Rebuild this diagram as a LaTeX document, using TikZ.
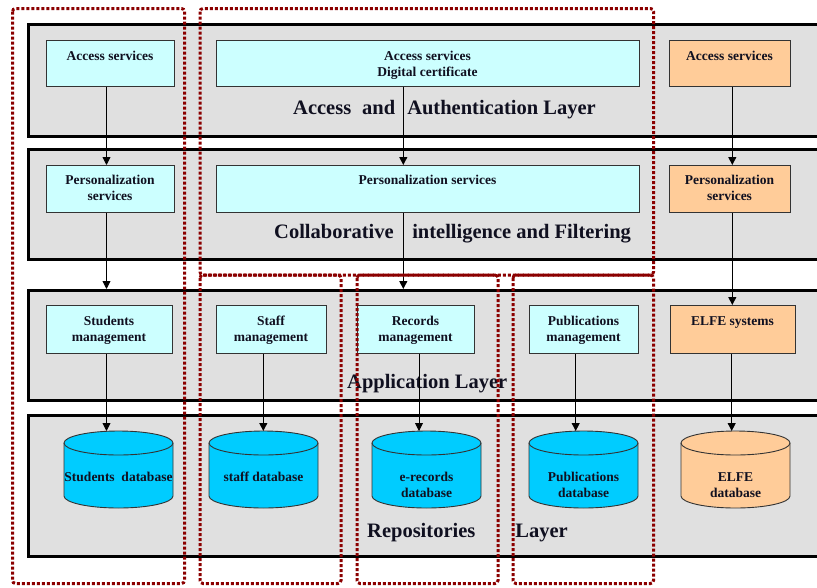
\documentclass[tikz,border=0pt]{standalone}
\usepackage{fontspec}
\setmainfont{Liberation Serif}
\usetikzlibrary{arrows.meta,calc}
\definecolor{cyanbox}{HTML}{CCFFFF}
\definecolor{orangebox}{HTML}{FFCC99}
\definecolor{cylcyan}{HTML}{00CCFF}
\definecolor{bandgray}{HTML}{E0E0E0}
\definecolor{dred}{HTML}{8B0000}
\definecolor{ink}{HTML}{101020}
\tikzset{
 band/.style={draw=black, line width=3pt, fill=bandgray, anchor=north west, inner sep=0pt},
 box/.style={draw=black!80, line width=0.9pt, anchor=north west, inner sep=0pt},
 cbox/.style={box, fill=cyanbox},
 obox/.style={box, fill=orangebox},
 boxtext/.style={font=\fontsize{13.5}{16}\selectfont\bfseries, text=ink, anchor=base, inner sep=0pt},
 layertext/.style={font=\fontsize{20.5}{24}\selectfont\bfseries, text=ink, anchor=base west, inner sep=0pt},
 arr/.style={draw=black, line width=0.9pt, -{Triangle[length=8pt,width=8pt]}},
 region/.style={draw=dred, line width=3pt, dash pattern=on 3pt off 2pt, rounded corners=3pt},
 cylline/.style={draw=black!80, line width=0.9pt},
}
\newcommand\twol[2]{\begin{tabular}[t]{@{}c@{}}#1\\#2\end{tabular}}
\newcommand\mycyl[3]{% name, cx, fill
 \path[cylline, fill=#3] (#2-54.5,443) -- (#2-54.5,496)
   arc[start angle=180, end angle=360, x radius=54.5pt, y radius=12pt]
   -- (#2+54.5,443)
   arc[start angle=0, end angle=180, x radius=54.5pt, y radius=12pt] -- cycle;
 \draw[cylline] (#2+54.5,443) arc[start angle=0, end angle=-180, x radius=54.5pt, y radius=12pt];
 \coordinate (#1) at (#2,431);
}
\begin{document}
\begin{tikzpicture}[x=1pt,y=-1pt]
\clip (0,0) rectangle (817,587);
\fill[white] (0,0) rectangle (817,587);
% layer bands
\node[band, minimum width=800pt, minimum height=112pt] (b1) at (27,23) {};
\node[band, minimum width=800pt, minimum height=110pt] (b2) at (27,148) {};
\node[band, minimum width=800pt, minimum height=110pt] (b3) at (27,289) {};
\node[band, minimum width=800pt, minimum height=141pt] (b4) at (27,414) {};
% boxes
\node[cbox, minimum width=128pt, minimum height=46pt] (acc1) at (46,40) {};
\node[cbox, minimum width=423pt, minimum height=46pt] (acc2) at (216,40) {};
\node[obox, minimum width=121pt, minimum height=46pt] (acc3) at (669,40) {};
\node[cbox, minimum width=128pt, minimum height=47pt] (per1) at (46,165) {};
\node[cbox, minimum width=423pt, minimum height=47pt] (per2) at (216,165) {};
\node[obox, minimum width=121pt, minimum height=47pt] (per3) at (669,165) {};
\node[cbox, minimum width=126pt, minimum height=48pt] (app1) at (46,305) {};
\node[cbox, minimum width=110pt, minimum height=48pt] (app2) at (216,305) {};
\node[cbox, minimum width=117pt, minimum height=48pt] (app3) at (357,305) {};
\node[cbox, minimum width=109pt, minimum height=48pt] (app4) at (529,305) {};
\node[obox, minimum width=125pt, minimum height=48pt] (app5) at (670,305) {};
% cylinders
\mycyl{c1}{118.5}{cylcyan}
\mycyl{c2}{263.5}{cylcyan}
\mycyl{c3}{426.5}{cylcyan}
\mycyl{c4}{583.5}{cylcyan}
\mycyl{c5}{735.5}{orangebox}
% box labels
\node[boxtext] (acc1t) at (110,60) {Access services};
\node[boxtext] (acc2t) at (427.5,60) {\twol{Access services}{Digital certificate}};
\node[boxtext] (acc3t) at (729.5,60) {Access services};
\node[boxtext] (per1t) at (110,184) {\twol{Personalization}{services}};
\node[boxtext] (per2t) at (427.5,184) {Personalization services};
\node[boxtext] (per3t) at (729.5,184) {\twol{Personalization}{services}};
\node[boxtext] (app1t) at (109,325) {\twol{Students}{management}};
\node[boxtext] (app2t) at (271,325) {\twol{Staff}{management}};
\node[boxtext] (app3t) at (415.5,325) {\twol{Records}{management}};
\node[boxtext] (app4t) at (583.5,325) {\twol{Publications}{management}};
\node[boxtext] (app5t) at (732.5,325) {ELFE systems};
\node[boxtext] (c1t) at (118.5,481) {Students\ \ database};
\node[boxtext] (c2t) at (263.5,481) {staff database};
\node[boxtext] (c3t) at (426.5,481) {\twol{e-records}{database}};
\node[boxtext] (c4t) at (583.5,481) {\twol{Publications}{database}};
\node[boxtext] (c5t) at (735.5,481) {\twol{ELFE}{database}};
% layer labels
\node[layertext] (l1) at (293,114) {Access\hspace{11pt}and\hspace{12pt}Authentication Layer};
\node[layertext] (l2) at (274,238) {Collaborative\hspace{18.5pt}intelligence and Filtering};
\node[layertext] (l3) at (347,388) {Application Layer};
\node[layertext] (l4) at (367,537) {Repositories\hspace{40pt}Layer};
% connector columns
\coordinate (xA) at (106.5,0);
\coordinate (xB) at (403.3,0);
\coordinate (xC) at (732.3,0);
\coordinate (xD) at (263.3,0);
\coordinate (xE) at (419,0);
\coordinate (xF) at (575.7,0);
\coordinate (xG) at (731.7,0);
% arrows
\draw[arr] (acc1.south -| xA) -- (per1.north -| xA);
\draw[arr] (acc2.south -| xB) -- (per2.north -| xB);
\draw[arr] (acc3.south -| xC) -- (per3.north -| xC);
\draw[arr] (per1.south -| xA) -- (b3.north -| xA);
\draw[arr] (per2.south -| xB) -- (b3.north -| xB);
\draw[arr] (per3.south -| xC) -- (app5.north -| xC);
\draw[arr] (app1.south -| xA) -- (c1 -| xA);
\draw[arr] (app2.south -| xD) -- (c2 -| xD);
\draw[arr] (app3.south -| xE) -- (c3 -| xE);
\draw[arr] (app4.south -| xF) -- (c4 -| xF);
\draw[arr] (app5.south -| xG) -- (c5 -| xG);
% dotted regions
\draw[region] (12.5,8.5) rectangle (184.5,583.5);
\draw[region] (200,8.5) rectangle (653.5,275);
\draw[region] (200,275) rectangle (341,583.5);
\draw[region] (357,275) rectangle (498,583.5);
\draw[region] (513,275) rectangle (653.5,583.5);
\end{tikzpicture}
\end{document}
